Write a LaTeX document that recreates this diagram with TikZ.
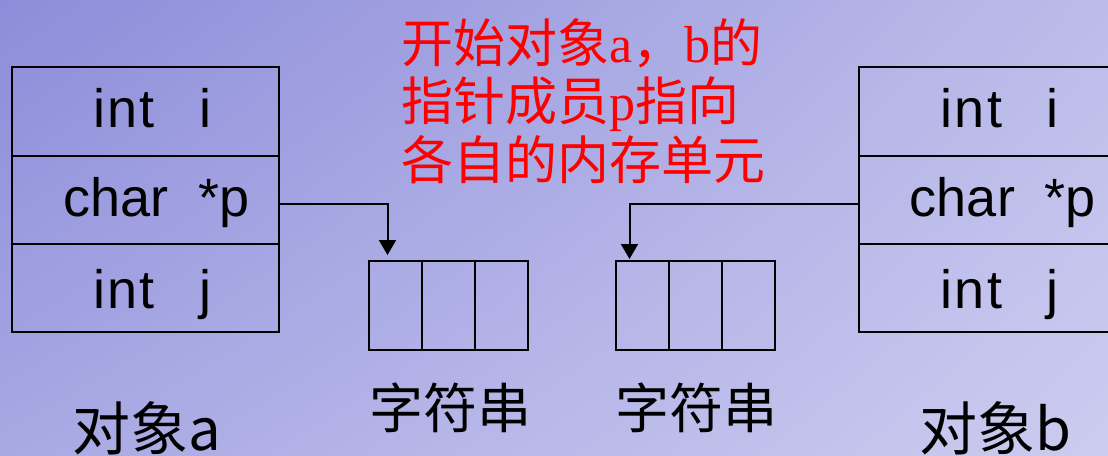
\documentclass[tikz,border=0pt]{standalone}
\usepackage{fontspec}
\newfontfamily\cjk{Noto Sans CJK SC}
\newfontfamily\lsans{Liberation Sans}
\newfontfamily\lserif{Liberation Serif}
\usetikzlibrary{arrows.meta,shadings}
\definecolor{bgTL}{RGB}{140,140,218}
\definecolor{bgTR}{RGB}{188,188,234}
\definecolor{bgBL}{RGB}{168,168,228}
\definecolor{bgBR}{RGB}{204,204,240}
\begin{document}
\begin{tikzpicture}[x=1pt,y=-1pt,
  cell/.style={draw=black,line width=2pt,inner sep=0pt,minimum width=267pt,minimum height=88pt,anchor=north west},
  strcell/.style={draw=black,line width=2pt,inner sep=0pt,minimum width=53pt,minimum height=89pt,anchor=north west},
  boxtext/.style={font=\lsans\fontsize{54}{60}\selectfont,anchor=base,inner sep=0pt},
  cjklabel/.style={font=\cjk\fontsize{#1}{#1}\selectfont,anchor=base,inner sep=0pt},
  redtext/.style={font=\cjk\fontsize{52}{58.5}\selectfont,text=red,align=left,anchor=north west,inner sep=0pt},
  ptr/.style={draw=black,line width=2pt,-{Triangle[width=17pt,length=15pt]}}
]
\useasboundingbox (0,0) rectangle (1108,455);
\clip (0,0) rectangle (1108,455);
\shade[upper left=bgTL,upper right=bgTR,lower left=bgBL,lower right=bgBR] (0,0) rectangle (1108,455);

% object a
\node[cell,minimum height=89pt] (a1) at (11,66) {};
\node[cell] (a2) at (11,155) {};
\node[cell] (a3) at (11,243) {};
\node[boxtext] (ta1) at (153,127) {i\kern2pt n\kern2pt t~~~i};
\node[boxtext] (ta2) at (157,216) {char~~*p};
\node[boxtext] (ta3) at (153,308) {i\kern2pt n\kern2pt t~~~j};

% object b
\node[cell,minimum height=89pt] (b1) at (858,66) {};
\node[cell] (b2) at (858,155) {};
\node[cell] (b3) at (858,243) {};
\node[boxtext] (tb1) at (1000,127) {i\kern2pt n\kern2pt t~~~i};
\node[boxtext] (tb2) at (1003,216) {char~~*p};
\node[boxtext] (tb3) at (1000,308) {i\kern2pt n\kern2pt t~~~j};

% strings
\node[strcell] (s1a) at (368,260) {};
\node[strcell] (s1b) at (421,260) {};
\node[strcell] (s1c) at (474,260) {};
\node[strcell] (s2a) at (615,260) {};
\node[strcell] (s2b) at (668,260) {};
\node[strcell] (s2c) at (721,260) {};

% pointers
\draw[ptr,shorten >=5pt] ([yshift=-4pt]a2.east) -| ([xshift=-8pt]s1a.north);
\draw[ptr,shorten >=1pt] ([yshift=-4pt]b2.west) -| ([xshift=-13pt]s2a.north);

% labels
\node[cjklabel=58] (la) at (147,450) {对象a};
\node[cjklabel=58] (lb) at (995,450) {对象b};
\node[cjklabel=54] (ls1) at (450,428) {字符串};
\node[cjklabel=54] (ls2) at (696,428) {字符串};

% note
\node[redtext] (note) at (401,18) {开始对象{\lserif a}，{\lserif b}的\\指针成员{\lserif p}指向\\各自的内存单元};
\end{tikzpicture}
\end{document}
